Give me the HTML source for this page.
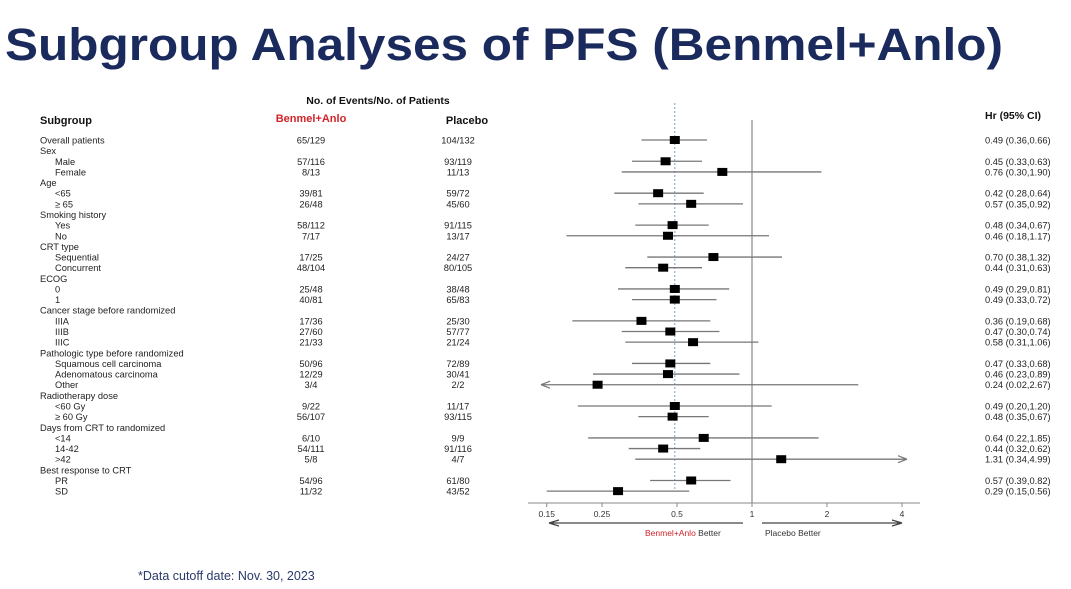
<!DOCTYPE html>
<html><head><meta charset="utf-8">
<style>
body{margin:0;background:#fff;}
svg{display:block;font-family:"Liberation Sans",Arial,sans-serif;}
</style></head>
<body>
<svg id="chart" width="1071" height="589" viewBox="0 0 1071 589" xmlns="http://www.w3.org/2000/svg">
<rect width="1071" height="589" fill="#fff"/>
<text x="5" y="60" font-size="45" font-weight="bold" fill="#1b2a5c" textLength="998" lengthAdjust="spacingAndGlyphs">Subgroup Analyses of PFS (Benmel+Anlo)</text>
<text x="378" y="104" font-size="10.5" font-weight="bold" text-anchor="middle" fill="#111">No. of Events/No. of Patients</text>
<text x="40" y="124" font-size="11" font-weight="bold" fill="#111">Subgroup</text>
<text x="311" y="122" font-size="11" font-weight="bold" text-anchor="middle" fill="#d0232a">Benmel+Anlo</text>
<text x="467" y="124" font-size="11" font-weight="bold" text-anchor="middle" fill="#111">Placebo</text>
<text x="985" y="119" font-size="10.5" font-weight="bold" fill="#111">Hr (95% CI)</text>
<g id="rows"></g>
<g id="plot"></g>
<text x="138" y="580" font-size="12.5" fill="#2a3a6a">*Data cutoff  date: Nov. 30, 2023</text>
</svg>
<script>
const labels=["Overall patients","Sex","Male","Female","Age","<65","≥ 65","Smoking history","Yes","No","CRT type","Sequential","Concurrent","ECOG","0","1","Cancer stage before randomized","IIIA","IIIB","IIIC","Pathologic type before randomized","Squamous cell carcinoma","Adenomatous carcinoma","Other","Radiotherapy dose","<60 Gy","≥ 60 Gy","Days from CRT to randomized","<14","14-42",">42","Best response to CRT","PR","SD"];
const indent=[0,0,1,1,0,1,1,0,1,1,0,1,1,0,1,1,0,1,1,1,0,1,1,1,0,1,1,0,1,1,1,0,1,1];
const trtEvents=["65/129","","57/116","8/13","","39/81","26/48","","58/112","7/17","","17/25","48/104","","25/48","40/81","","17/36","27/60","21/33","","50/96","12/29","3/4","","9/22","56/107","","6/10","54/111","5/8","","54/96","11/32"];
const pboEvents=["104/132","","93/119","11/13","","59/72","45/60","","91/115","13/17","","24/27","80/105","","38/48","65/83","","25/30","57/77","21/24","","72/89","30/41","2/2","","11/17","93/115","","9/9","91/116","4/7","","61/80","43/52"];
const hr=[0.49,null,0.45,0.76,null,0.42,0.57,null,0.48,0.46,null,0.70,0.44,null,0.49,0.49,null,0.36,0.47,0.58,null,0.47,0.46,0.24,null,0.49,0.48,null,0.64,0.44,1.31,null,0.57,0.29];
const lo=[0.36,null,0.33,0.30,null,0.28,0.35,null,0.34,0.18,null,0.38,0.31,null,0.29,0.33,null,0.19,0.30,0.31,null,0.33,0.23,0.02,null,0.20,0.35,null,0.22,0.32,0.34,null,0.39,0.15];
const hi=[0.66,null,0.63,1.90,null,0.64,0.92,null,0.67,1.17,null,1.32,0.63,null,0.81,0.72,null,0.68,0.74,1.06,null,0.68,0.89,2.67,null,1.20,0.67,null,1.85,0.62,4.99,null,0.82,0.56];
const ticks=[0.15,0.25,0.5,1,2,4];
const overallHR=0.49;

const NS="http://www.w3.org/2000/svg";
function el(tag,attrs,parent,txt){const e=document.createElementNS(NS,tag);for(const k in attrs)e.setAttribute(k,attrs[k]);if(txt!=null)e.textContent=txt;parent.appendChild(e);return e;}
const xs=v=>752+75*Math.log2(v);
const ys=i=>140+i*10.64;
const XMIN=541, XMAX=907;
const rows=document.getElementById('rows'), plot=document.getElementById('plot');
const fmt=v=>v.toFixed(2);

// reference lines
let l=el('line',{x1:xs(1),x2:xs(1),y1:120,y2:503,stroke:'#888','stroke-width':1.2},plot);


l=el('line',{x1:xs(overallHR),x2:xs(overallHR),y1:103,y2:490,stroke:'#7a9ad0','stroke-width':1,'stroke-dasharray':'2,2'},plot);



labels.forEach((lab,i)=>{
  const y=ys(i);
  let t=el('text',{x:indent[i]?55:40,y:y+3.5,'font-size':9.3,fill:'#222'},rows,lab);
  
  
  if(trtEvents[i]){
    t=el('text',{x:311,y:y+3.5,'font-size':9.3,fill:'#222','text-anchor':'middle'},rows,trtEvents[i]);
    
    
    t=el('text',{x:458,y:y+3.5,'font-size':9.3,fill:'#222','text-anchor':'middle'},rows,pboEvents[i]);
    
    
  }
  if(hr[i]!=null){
    t=el('text',{x:985,y:y+3.5,'font-size':9.3,fill:'#222'},rows,fmt(hr[i])+" ("+fmt(lo[i])+","+fmt(hi[i])+")");
    
    
    const x1=Math.max(XMIN,xs(lo[i])), x2=Math.min(XMAX,xs(hi[i]));
    const ci=el('line',{x1:x1,x2:x2,y1:y,y2:y,stroke:'#777','stroke-width':1.3},plot);
    
    
    if(xs(lo[i])<XMIN){const a=el('path',{d:`M${XMIN} ${y} l9 -3.5 M${XMIN} ${y} l9 3.5`,stroke:'#777','stroke-width':1.2,fill:'none'},plot);
      
      }
    if(xs(hi[i])>XMAX){const a=el('path',{d:`M${XMAX} ${y} l-9 -3.5 M${XMAX} ${y} l-9 3.5`,stroke:'#777','stroke-width':1.2,fill:'none'},plot);
      
      }
    const b=el('rect',{x:xs(hr[i])-5,y:y-4,width:10,height:8,fill:'#000'},plot);
    
    
  }
});

// axis
l=el('line',{x1:528,x2:920,y1:503,y2:503,stroke:'#888','stroke-width':1},plot);


ticks.forEach(v=>{
  const tk=el('line',{x1:xs(v),x2:xs(v),y1:503,y2:507,stroke:'#888'},plot);
  
  
  const tl=el('text',{x:xs(v),y:517,'font-size':8.5,'text-anchor':'middle',fill:'#333'},plot,String(v));
  
  
});
l=el('path',{d:'M743 523 L549 523 M549 523 l10 -3 M549 523 l10 3',stroke:'#444','stroke-width':1.3,fill:'none'},plot);


l=el('path',{d:'M762 523 L902 523 M902 523 l-10 -3 M902 523 l-10 3',stroke:'#444','stroke-width':1.3,fill:'none'},plot);


let tx=el('text',{x:645,y:536,'font-size':8.5,fill:'#333'},plot);


el('tspan',{fill:'#d0232a'},tx,'Benmel+Anlo');
el('tspan',{},tx,' Better');
tx=el('text',{x:765,y:536,'font-size':8.5,fill:'#333'},plot,'Placebo Better');


</script>
</body></html>
